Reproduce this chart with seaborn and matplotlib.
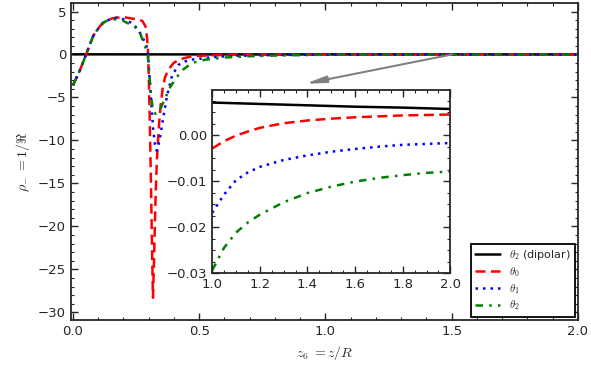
import numpy as np
import pandas as pd
import seaborn as sns
import matplotlib.pyplot as plt

# shared rise of all three curves (z < 0.18)
z_rise = [0.0, 0.014, 0.028, 0.04, 0.052, 0.065, 0.081, 0.095, 0.107, 0.12, 0.133, 0.15, 0.173]
rho_rise = [-3.6, -2.7, -1.8, -0.9, 0.0, 1.0, 2.2, 2.8, 3.3, 3.7, 3.9, 4.15, 4.3]

# theta_0 after the peak
z_t0 = [0.19, 0.21, 0.23, 0.253, 0.275, 0.287, 0.294, 0.298, 0.303, 0.309, 0.314, 0.317,
        0.321, 0.325, 0.329, 0.333, 0.34, 0.347, 0.355, 0.365, 0.38, 0.398, 0.42, 0.457,
        0.5, 0.6, 0.7, 0.8, 0.9]
rho_t0 = [4.3, 4.3, 4.2, 4.1, 3.9, 3.3, 1.8, 0.0, -6.0, -15.0, -24.0, -28.3,
          -24.0, -19.0, -15.0, -12.0, -8.5, -6.0, -4.0, -2.6, -1.7, -1.0, -0.6, -0.3,
          -0.15, -0.06, -0.03, -0.015, -0.008]

# theta_1 after the peak
z_t1 = [0.19, 0.21, 0.23, 0.24, 0.26, 0.275, 0.29, 0.297, 0.303, 0.31, 0.317, 0.325, 0.332,
        0.338, 0.345, 0.358, 0.372, 0.392, 0.418, 0.445, 0.47, 0.54, 0.6, 0.7, 0.8, 0.9]
rho_t1 = [4.2, 4.0, 3.7, 3.5, 2.8, 2.0, 1.2, 0.0, -2.5, -5.5, -8.5, -10.5, -11.2,
          -10.6, -9.6, -7.3, -4.9, -2.5, -1.2, -0.8, -0.6, -0.35, -0.22, -0.12, -0.07, -0.04]

# theta_2 after the peak
z_t2 = [0.19, 0.2, 0.22, 0.246, 0.266, 0.279, 0.29, 0.296, 0.303, 0.31, 0.318, 0.327,
        0.345, 0.365, 0.385, 0.405, 0.43, 0.47, 0.524, 0.6, 0.7, 0.8, 0.9]
rho_t2 = [4.05, 3.9, 3.6, 3.2, 2.5, 1.4, 0.6, 0.0, -2.5, -5.1, -6.5, -6.9,
          -6.4, -5.1, -3.8, -2.9, -1.9, -1.0, -0.6, -0.35, -0.2, -0.12, -0.07]

# tail 1.0 - 2.0 (shown in the inset)
z_tail = [1.0, 1.05, 1.1, 1.15, 1.2, 1.3, 1.4, 1.5, 1.6, 1.7, 1.8, 1.9, 2.0]
tail_t0 = [-0.0029, -0.0013, -0.0001, 0.0008, 0.0016, 0.0026, 0.0032, 0.0036, 0.0039,
           0.0041, 0.0043, 0.0044, 0.0045]
tail_t1 = [-0.0169, -0.0129, -0.0098, -0.0081, -0.0069, -0.0054, -0.0044, -0.0036,
           -0.0030, -0.0025, -0.0021, -0.0019, -0.0017]
tail_t2 = [-0.0294, -0.0245, -0.0212, -0.0190, -0.0173, -0.0146, -0.0126, -0.0112,
           -0.0101, -0.0093, -0.0087, -0.0082, -0.0079]

# dipolar reference
z_dip = [0.0, 0.5, 0.8, 1.0, 1.2, 1.4, 1.6, 1.8, 2.0]
rho_dip = [0.02, 0.01, 0.008, 0.0071, 0.0068, 0.0065, 0.0062, 0.0060, 0.0057]
z_dip_in = z_dip[3:]
rho_dip_in = rho_dip[3:]

series = {
    "t0": (z_rise + z_t0 + z_tail, rho_rise + rho_t0 + tail_t0),
    "t1": (z_rise + z_t1 + z_tail, rho_rise[:-1] + [4.25] + rho_t1 + tail_t1),
    "t2": (z_rise + z_t2 + z_tail, rho_rise[:-2] + [4.05, 4.1] + rho_t2 + tail_t2),
}

sns.set_style("ticks")
plt.rcParams["font.family"] = ["DejaVu Sans"]
plt.rcParams["mathtext.fontset"] = "cm"
plt.rcParams["axes.linewidth"] = 1.3

styles = {
    "dip": dict(color="black", linestyle="-", lw=1.8, label=r"$\theta_2$ (dipolar)"),
    "t0": dict(color="red", linestyle=(0, (4, 2.2)), lw=1.8, label=r"$\theta_0$"),
    "t1": dict(color="blue", linestyle=(0, (1, 2)), lw=1.8, label=r"$\theta_1$"),
    "t2": dict(color="green", linestyle=(0, (3, 2.5, 1, 2.5)), lw=1.8, label=r"$\theta_2$"),
}

fig = plt.figure(figsize=(5.91, 3.65), dpi=100)
ax = fig.add_axes([0.120, 0.123, 0.858, 0.869])

sns.lineplot(x=z_dip, y=rho_dip, ax=ax, sort=False, **styles["dip"])
for key in ["t0", "t1", "t2"]:
    zz, rr = series[key]
    sns.lineplot(x=zz, y=rr, ax=ax, sort=False, **styles[key])

ax.set_xlim(-0.008, 2.0)
ax.set_ylim(-30.9, 6.0)
ax.set_xticks([0.0, 0.5, 1.0, 1.5, 2.0])
ax.set_yticks([5, 0, -5, -10, -15, -20, -25, -30])
ax.set_xticks(np.arange(0, 2.01, 0.1), minor=True)
ax.set_yticks(np.arange(-30, 6, 1), minor=True)
ax.tick_params(which="both", direction="in", top=True, right=True, labelsize=9.5)
ax.tick_params(which="major", length=5, width=1)
ax.tick_params(which="minor", length=2.5, width=0.8)
ax.set_xlabel(r"$z_6\;=z/R$", fontsize=10)
ax.set_ylabel(r"$\rho_{-}\;=1/\Re$", fontsize=10)

leg = ax.legend(loc="lower right", fontsize=8, fancybox=False, edgecolor="black",
                framealpha=1, borderaxespad=0.3, handlelength=2.2, labelspacing=0.25)
leg.get_frame().set_linewidth(1.3)

ax.annotate("", xy=(0.92, -3.4), xytext=(1.5, 0.0),
            arrowprops=dict(arrowstyle="-|>,head_length=1.2,head_width=0.2",
                            color="gray", lw=1.5, shrinkA=0, shrinkB=0))

# inset
axin = fig.add_axes([0.359, 0.252, 0.403, 0.501])
axin.set_facecolor("white")
sns.lineplot(x=z_dip_in, y=rho_dip_in, ax=axin, sort=False, legend=False,
             **{k: v for k, v in styles["dip"].items() if k != "label"})
for key, tail in [("t0", tail_t0), ("t1", tail_t1), ("t2", tail_t2)]:
    sns.lineplot(x=z_tail, y=tail, ax=axin, sort=False, legend=False,
                 **{k: v for k, v in styles[key].items() if k != "label"})
axin.set_xlim(1.0, 2.0)
axin.set_ylim(-0.03, 0.0098)
axin.set_xticks([1.0, 1.2, 1.4, 1.6, 1.8, 2.0])
axin.set_yticks([0.0, -0.01, -0.02, -0.03])
axin.set_yticklabels(["0.00", "\u22120.01", "\u22120.02", "\u22120.03"])
axin.set_xticks(np.arange(1.0, 2.001, 0.05), minor=True)
axin.set_yticks(np.arange(-0.03, 0.0099, 0.0025), minor=True)
axin.tick_params(which="both", direction="in", top=True, right=True, labelsize=9.5)
axin.tick_params(which="major", length=5, width=1)
axin.tick_params(which="minor", length=2.5, width=0.8)
axin.set_xlabel("")
axin.set_ylabel("")

fig.savefig("out.png", dpi=100)
